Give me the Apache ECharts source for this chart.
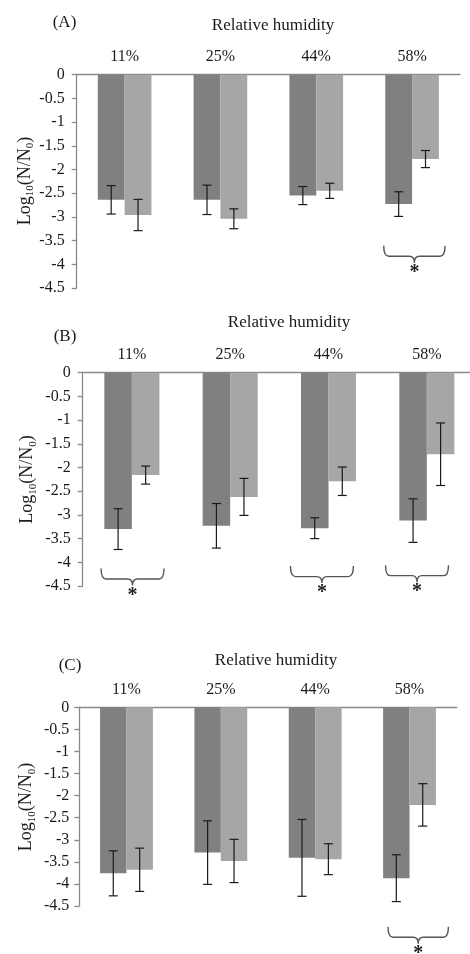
<!DOCTYPE html>
<html>
<head>
<meta charset="utf-8">
<script src="https://cdn.jsdelivr.net/npm/echarts@6/dist/echarts.min.js"></script>
<style>
html,body{margin:0;padding:0;background:#fff;}
#chart{width:470px;height:954px;}
</style>
</head>
<body>
<div id="chart"></div>
<script>
// ---- data ----
const categories = ['11%', '25%', '44%', '58%'];
const panelLabels = ['(A)', '(B)', '(C)'];
const xTitle = 'Relative humidity';
const yName = '{m|Log}{s|10}{m|(N/N}{s|0}{m|)}';
const yTicks = { min: -4.5, max: 0, interval: 0.5 };

const A_dark = [-2.64, -2.64, -2.55, -2.73];
const A_darkErr = [0.30, 0.31, 0.19, 0.26];
const A_light = [-2.96, -3.04, -2.45, -1.78];
const A_lightErr = [0.33, 0.21, 0.16, 0.18];

const B_dark = [-3.30, -3.23, -3.28, -3.12];
const B_darkErr = [0.43, 0.47, 0.22, 0.46];
const B_light = [-2.16, -2.62, -2.29, -1.72];
const B_lightErr = [0.19, 0.39, 0.30, 0.66];

const C_dark = [-3.76, -3.29, -3.41, -3.87];
const C_darkErr = [0.51, 0.72, 0.87, 0.53];
const C_light = [-3.68, -3.48, -3.44, -2.21];
const C_lightErr = [0.49, 0.49, 0.35, 0.48];

// significance braces: [category index, y of brace top, x shift in category widths]
const A_braces = [[3, -3.61, 0.024]];
const B_braces = [[0, -4.13, 0.007], [2, -4.08, -0.067], [3, -4.06, -0.10]];
const C_braces = [[3, -4.97, 0.092]];

// ---- layout/style ----
const FONT = '"Liberation Serif", "Times New Roman", serif';
const TXT = '#1a1a1a';
const AXC = '#8a8a8a';
const DARK = '#808080';
const LIGHT = '#a6a6a6';
const GAP = 0.44;

const panels = [
  { dark: A_dark, darkErr: A_darkErr, light: A_light, lightErr: A_lightErr, braces: A_braces,
    grid: { left: 76.7, top: 74.7, width: 383.3, height: 213.3 }, labelMargin: 12,
    title: [273, 26], label: [64.5, 23], yname: [25, 181] },
  { dark: B_dark, darkErr: B_darkErr, light: B_light, lightErr: B_lightErr, braces: B_braces,
    grid: { left: 82.7, top: 372.7, width: 393.3, height: 213.3 }, labelMargin: 12,
    title: [289, 323], label: [65, 337], yname: [27.7, 479.5] },
  { dark: C_dark, darkErr: C_darkErr, light: C_light, lightErr: C_lightErr, braces: C_braces,
    grid: { left: 79.3, top: 707.3, width: 377.4, height: 198.7 }, labelMargin: 10,
    title: [276, 661], label: [70, 666], yname: [26.7, 807] }
];

const chart = echarts.init(document.getElementById('chart'), null, { renderer: 'canvas' });

const grids = [], xAxes = [], yAxes = [], series = [], graphics = [];

function errRender(side) {
  return function (params, api) {
    const k = api.value(0);
    const lo = api.coord([k, api.value(1)]);
    const hi = api.coord([k, api.value(2)]);
    const cw = api.size([1, 0])[0];
    const x = lo[0] + side * cw * (1 - GAP) / 4;
    const cap = 4.5;
    const st = { stroke: '#1a1a1a', lineWidth: 1.2 };
    return {
      type: 'group',
      children: [
        { type: 'line', shape: { x1: x, y1: lo[1], x2: x, y2: hi[1] }, style: st },
        { type: 'line', shape: { x1: x - cap, y1: lo[1], x2: x + cap, y2: lo[1] }, style: st },
        { type: 'line', shape: { x1: x - cap, y1: hi[1], x2: x + cap, y2: hi[1] }, style: st }
      ]
    };
  };
}

function braceRender(params, api) {
  const k = api.value(0);
  const p = api.coord([k, api.value(1)]);
  const cw = api.size([1, 0])[0];
  const cx = p[0] + api.value(2) * cw;
  const y0 = p[1];
  const w = cw * 0.32;
  const y1 = y0 + 10.5;
  const y2 = y0 + 17;
  const r = 5;
  const d = 'M' + (cx - w) + ' ' + y0 +
    ' Q' + (cx - w) + ' ' + y1 + ' ' + (cx - w + r) + ' ' + y1 +
    ' L' + (cx - r) + ' ' + y1 +
    ' Q' + cx + ' ' + y1 + ' ' + cx + ' ' + y2 +
    ' Q' + cx + ' ' + y1 + ' ' + (cx + r) + ' ' + y1 +
    ' L' + (cx + w - r) + ' ' + y1 +
    ' Q' + (cx + w) + ' ' + y1 + ' ' + (cx + w) + ' ' + y0;
  return {
    type: 'group',
    children: [
      { type: 'path', shape: { pathData: d }, style: { stroke: '#555', lineWidth: 1.4, fill: null } },
      { type: 'text', style: { text: '*', x: cx, y: y2, textAlign: 'center', textVerticalAlign: 'top',
        font: 'bold 20px ' + FONT, fill: '#222' } }
    ]
  };
}

panels.forEach((P, i) => {
  grids.push(Object.assign({ outerBoundsMode: 'none', containLabel: false }, P.grid));
  xAxes.push({
    gridIndex: i, type: 'category', data: categories, position: 'top',
    axisLine: { onZero: false, lineStyle: { color: AXC, width: 1.3 } },
    axisTick: { inside: true, length: 5, lineStyle: { color: AXC, width: 1.3 } },
    axisLabel: { margin: 10, fontSize: 16, fontFamily: FONT, color: TXT },
    splitLine: { show: false }
  });
  yAxes.push({
    gridIndex: i, type: 'value', min: yTicks.min, max: yTicks.max, interval: yTicks.interval,
    splitLine: { show: false },
    axisLine: { show: true, lineStyle: { color: AXC, width: 1.3 } },
    axisTick: { show: true, length: 5, lineStyle: { color: AXC, width: 1.3 } },
    axisLabel: { margin: P.labelMargin, fontSize: 16, fontFamily: FONT, color: TXT }
  });
  series.push({
    type: 'bar', xAxisIndex: i, yAxisIndex: i, data: P.dark,
    barGap: '0%', barCategoryGap: (GAP * 100) + '%', itemStyle: { color: DARK }, silent: true
  });
  series.push({
    type: 'bar', xAxisIndex: i, yAxisIndex: i, data: P.light,
    barGap: '0%', barCategoryGap: (GAP * 100) + '%', itemStyle: { color: LIGHT }, silent: true
  });
  series.push({
    type: 'custom', xAxisIndex: i, yAxisIndex: i, clip: false, z: 5,
    encode: { x: 0, y: [1, 2] },
    data: P.dark.map((v, k) => [k, v - P.darkErr[k], v + P.darkErr[k]]),
    renderItem: errRender(-1)
  });
  series.push({
    type: 'custom', xAxisIndex: i, yAxisIndex: i, clip: false, z: 5,
    encode: { x: 0, y: [1, 2] },
    data: P.light.map((v, k) => [k, v - P.lightErr[k], v + P.lightErr[k]]),
    renderItem: errRender(1)
  });
  series.push({
    type: 'custom', xAxisIndex: i, yAxisIndex: i, clip: false, z: 5,
    encode: { x: 0, y: 1 },
    data: P.braces,
    renderItem: braceRender
  });
  graphics.push({
    type: 'text', x: P.title[0], y: P.title[1],
    style: { text: xTitle, textAlign: 'center', textVerticalAlign: 'middle', font: '17px ' + FONT, fill: TXT }
  });
  graphics.push({
    type: 'text', x: P.label[0], y: P.label[1],
    style: { text: panelLabels[i], textAlign: 'center', textVerticalAlign: 'middle', font: '17px ' + FONT, fill: TXT }
  });
  graphics.push({
    type: 'text', x: P.yname[0], y: P.yname[1], rotation: Math.PI / 2,
    style: {
      text: yName, align: 'center', verticalAlign: 'middle',
      fontFamily: FONT, fill: TXT,
      rich: {
        m: { fontSize: 18, fontFamily: FONT, fill: TXT, lineHeight: 22 },
        s: { fontSize: 11, fontFamily: FONT, fill: TXT, lineHeight: 11, padding: [11, 0, 0, 0] }
      }
    }
  });
});

chart.setOption({
  animation: false,
  backgroundColor: '#fff',
  grid: grids,
  xAxis: xAxes,
  yAxis: yAxes,
  series: series,
  graphic: graphics
});
</script>
</body>
</html>
